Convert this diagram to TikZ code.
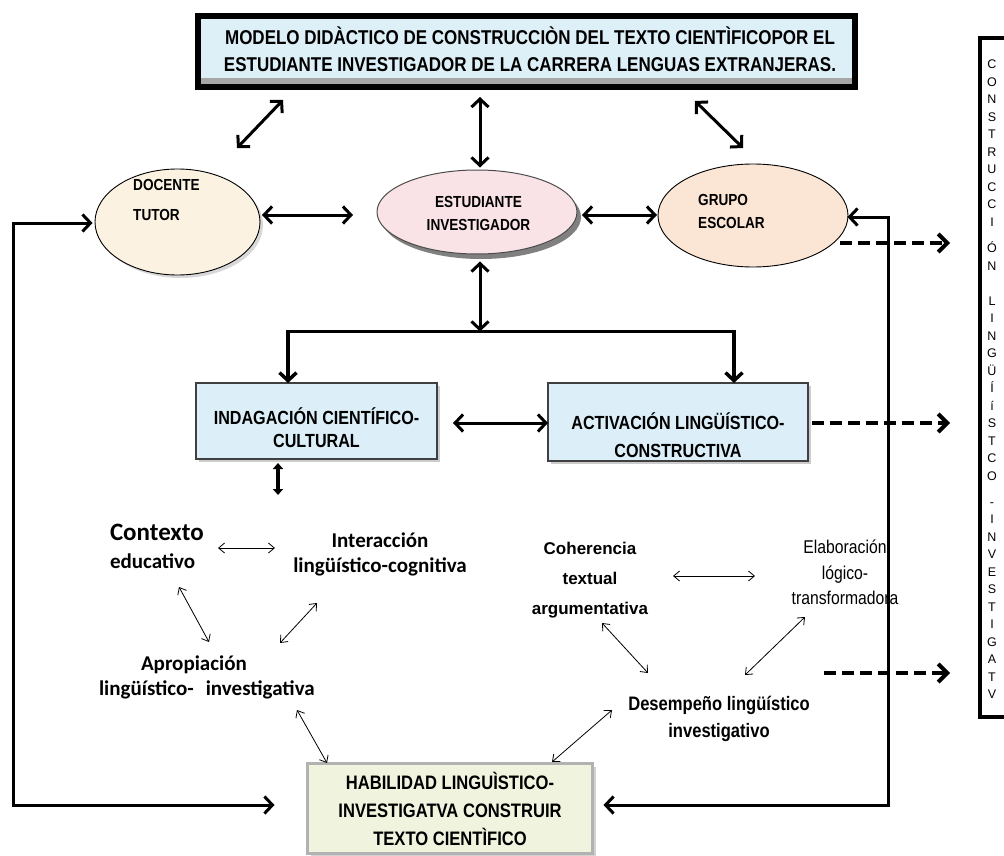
\documentclass[tikz,border=0pt]{standalone}
\usepackage{fontspec}
\setmainfont{Liberation Sans}
\newfontfamily\nfont[FakeStretch=0.85]{Liberation Sans}
\newfontfamily\cfont{Carlito}
\usetikzlibrary{arrows.meta,shapes.geometric,shadows,calc}
\definecolor{topblue}{HTML}{DDEFF7}
\definecolor{boxblue}{HTML}{DCEFF8}
\definecolor{cream}{HTML}{FCF2E2}
\definecolor{pinkfill}{HTML}{FAE3E6}
\definecolor{peach}{HTML}{FBE5D5}
\definecolor{habfill}{HTML}{F0F4DF}
\tikzset{
  dbl/.style={line width=3pt,{Straight Barb[length=8pt,width=17pt]}-{Straight Barb[length=8pt,width=17pt]}},
  sgl/.style={line width=3pt,-{Straight Barb[length=8pt,width=17pt]}},
  thn/.style={line width=0.8pt,{Straight Barb[length=6pt,width=10pt]}-{Straight Barb[length=6pt,width=10pt]}},
  dsh/.style={line width=4pt,dash pattern=on 12pt off 6pt,-{Straight Barb[length=9pt,width=18pt]}},
  fat/.style={line width=4pt,{Triangle[length=6pt,width=10pt]}-{Triangle[length=6pt,width=10pt]}},
  bluebox/.style={rectangle,draw=black!75,line width=1.3pt,fill=boxblue,outer sep=0pt,
    drop shadow={shadow xshift=3pt,shadow yshift=-3pt,fill=black!40}},
  lbl/.style={inner sep=0pt,align=center},
  shd/.style={drop shadow={shadow xshift=3pt,shadow yshift=-3pt,fill=black!30}},
}
\begin{document}
\begin{tikzpicture}[x=1pt,y=-1pt]
\useasboundingbox (0,0) rectangle (1004,856);
% ---- top box
\node[rectangle,draw=black,line width=6pt,fill=topblue,outer sep=0pt,
      minimum width=657pt,minimum height=71pt] (top) at (526.5,51.5) {};
\fill[black!35] ($(top.south west)+(3,-3)$) rectangle ($(top.south east)+(-3,-9)$);
\node[lbl,font=\nfont\bfseries\fontsize{20}{27}\selectfont] (toptxt) at (530,49)
  {MODELO DIDÀCTICO DE CONSTRUCCIÒN DEL TEXTO CIENTÌFICOPOR EL\\
   ESTUDIANTE INVESTIGADOR DE LA CARRERA LENGUAS EXTRANJERAS.};
% ---- ellipses
\node[ellipse,draw=black,line width=0.9pt,fill=cream,shd,
      minimum width=165pt,minimum height=106pt,inner sep=0pt] (doc) at (177.5,222) {};
\node[ellipse,draw=black!70,line width=1pt,fill=pinkfill,
      general shadow={fill=black!50,shadow xshift=4pt,shadow yshift=-5pt},
      minimum width=200pt,minimum height=84pt,inner sep=0pt] (est) at (477,212) {};
\node[ellipse,draw=black,line width=0.9pt,fill=peach,
      minimum width=190pt,minimum height=103pt,inner sep=0pt] (grp) at (753,215.5) {};
\node[lbl,align=left,anchor=west,font=\nfont\bfseries\fontsize{16}{30}\selectfont] (doct) at (133,200) {DOCENTE\\TUTOR};
\node[lbl,font=\nfont\bfseries\fontsize{16}{23}\selectfont] (estt) at (478.5,213.5) {ESTUDIANTE\\INVESTIGADOR};
\node[lbl,align=left,anchor=west,font=\nfont\bfseries\fontsize{16}{23}\selectfont] (grpt) at (698,211.5) {GRUPO\\ESCOLAR};
% ---- middle boxes
\node[bluebox,minimum width=241pt,minimum height=76pt] (indag) at (316.5,421) {};
\node[bluebox,minimum width=260pt,minimum height=78pt] (activ) at (678,422) {};
\node[lbl,font=\nfont\bfseries\fontsize{19}{23}\selectfont] (indagt) at (316.5,428) {INDAGACIÓN CIENTÍFICO-\\CULTURAL};
\node[lbl,font=\nfont\bfseries\fontsize{19}{28}\selectfont] (activt) at (678,435) {ACTIVACIÓN LINGÜÍSTICO-\\CONSTRUCTIVA};
% ---- bottom box
\node[rectangle,draw=black!30,line width=3pt,fill=habfill,outer sep=0pt,
      drop shadow={shadow xshift=3pt,shadow yshift=-3pt,fill=black!35},
      minimum width=285pt,minimum height=90pt,lbl,
      font=\nfont\bfseries\fontsize{19.5}{28}\selectfont] (hab) at (450,808.5)
  {HABILIDAD LINGUÌSTICO-\\INVESTIGATVA CONSTRUIR\\TEXTO CIENTÌFICO};
% ---- right column
\node[rectangle,draw=black,line width=4pt,fill=white,outer sep=0pt,
      minimum width=60pt,minimum height=679pt] (col) at (1010,377.5) {};
\node[lbl,anchor=north,font=\fontsize{12.5}{17.5}\selectfont] (colt) at (992,60)
  {C\\O\\N\\S\\T\\R\\U\\C\\C\\I\\[8.75pt]Ó\\N\\[17.5pt]L\\I\\N\\G\\Ü\\Í\\í\\S\\T\\C\\O\\[8.75pt]-\\I\\N\\V\\E\\S\\T\\I\\G\\A\\T\\V};
% ---- text clusters
\node[lbl,align=left,text width=97pt,font=\cfont\bfseries\fontsize{21}{28}\selectfont] (ctx) at (158.5,546)
  {{\fontsize{25}{28}\selectfont Contexto}\\educativo};
\node[lbl,font=\cfont\bfseries\fontsize{21}{25}\selectfont] (inter) at (380,554.5)
  {Interacción\\lingüístico-cognitiva};
\node[lbl,align=left,text width=232pt,font=\cfont\bfseries\fontsize{21}{25}\selectfont] (aprop) at (215,677.5)
  {\hspace*{42pt}Apropiación\\lingüístico-\hspace{12pt}investigativa};
\node[lbl,font=\bfseries\fontsize{17}{30}\selectfont] (coh) at (590,580)
  {Coherencia\\textual\\argumentativa};
\node[lbl,font=\nfont\fontsize{18.5}{25.5}\selectfont] (elab) at (845,572.5)
  {Elaboración\\lógico-\\transformadora};
\node[lbl,font=\nfont\bfseries\fontsize{19.5}{27}\selectfont] (des) at (719,718.5)
  {Desempeño lingüístico\\investigativo};
% ---- top arrows
\draw[dbl] ($(top.center)+(-243.5,48.5)$) -- ($(doc.center)+(59.5,-74)$);
\draw[dbl] ($(top.center)+(-46.5,45.5)$) -- ($(est.north)+(3,-2)$);
\draw[dbl] ($(top.center)+(168.5,49.5)$) -- ($(grp.center)+(-10,-67.5)$);
\draw[dbl] ($(doc.center)+(84.5,-7)$) -- ($(est.center)+(-124,3)$);
\draw[dbl] ($(est.center)+(105,3)$) -- ($(grp.center)+(-96,-0.5)$);
% ---- branch
\coordinate (br) at ($(est.south)+(3,77)$);
\draw[dbl] ($(est.south)+(3,7)$) -- (br);
\draw[sgl,line width=3.5pt] (br) -| ($(indag.north)+(-28.5,0)$);
\draw[sgl,line width=3.5pt] (br) -| ($(activ.north)+(56,0)$);
\draw[dbl] ($(indag.east)+(16,2)$) -- ($(activ.west)+(0,1)$);
\draw[fat] ($(indag.south)+(-38.5,4)$) -- ($(indag.south)+(-38.5,36)$);
% ---- thin arrows
\draw[thn] ($(ctx.center)+(59.5,2)$) -- ($(inter.center)+(-105,-6.5)$);
\draw[thn] ($(ctx.center)+(20.5,41)$) -- ($(aprop.center)+(-6,-35.5)$);
\draw[thn] ($(inter.center)+(-63,48.5)$) -- ($(aprop.center)+(65,-34.5)$);
\draw[thn] ($(aprop.center)+(82,32.5)$) -- ($(hab.center)+(-123,-45.5)$);
\draw[thn] ($(coh.center)+(83,-4)$) -- ($(elab.center)+(-90,3.5)$);
\draw[thn] ($(coh.center)+(12,43)$) -- ($(des.center)+(-71,-45.5)$);
\draw[thn] ($(elab.center)+(-40,44.5)$) -- ($(des.center)+(26,-43.5)$);
\draw[thn] ($(des.center)+(-107,-8.5)$) -- ($(hab.center)+(102,-46.5)$);
% ---- feedback lines
\coordinate (lft) at (13,514);
\draw[sgl] (lft) |- ($(doc.west)+(-2,1)$);
\draw[sgl] (lft) |- ($(hab.west)+(-33,-3.5)$);
\coordinate (rgt) at (888,511);
\draw[sgl] (rgt) |- ($(grp.east)+(-1,1.5)$);
\draw[sgl] (rgt) |- ($(hab.east)+(11,-3.5)$);
% ---- dashed arrows
\draw[dsh] ($(grp.center)+(87,27.5)$) -- ($(col.west)+(-30,-134.5)$);
\draw[dsh] ($(activ.east)+(4,1)$) -- ($(col.west)+(-30,45.5)$);
\draw[dsh] ($(des.center)+(105,-45.5)$) -- ($(col.west)+(-30,295.5)$);
\end{tikzpicture}
\end{document}
